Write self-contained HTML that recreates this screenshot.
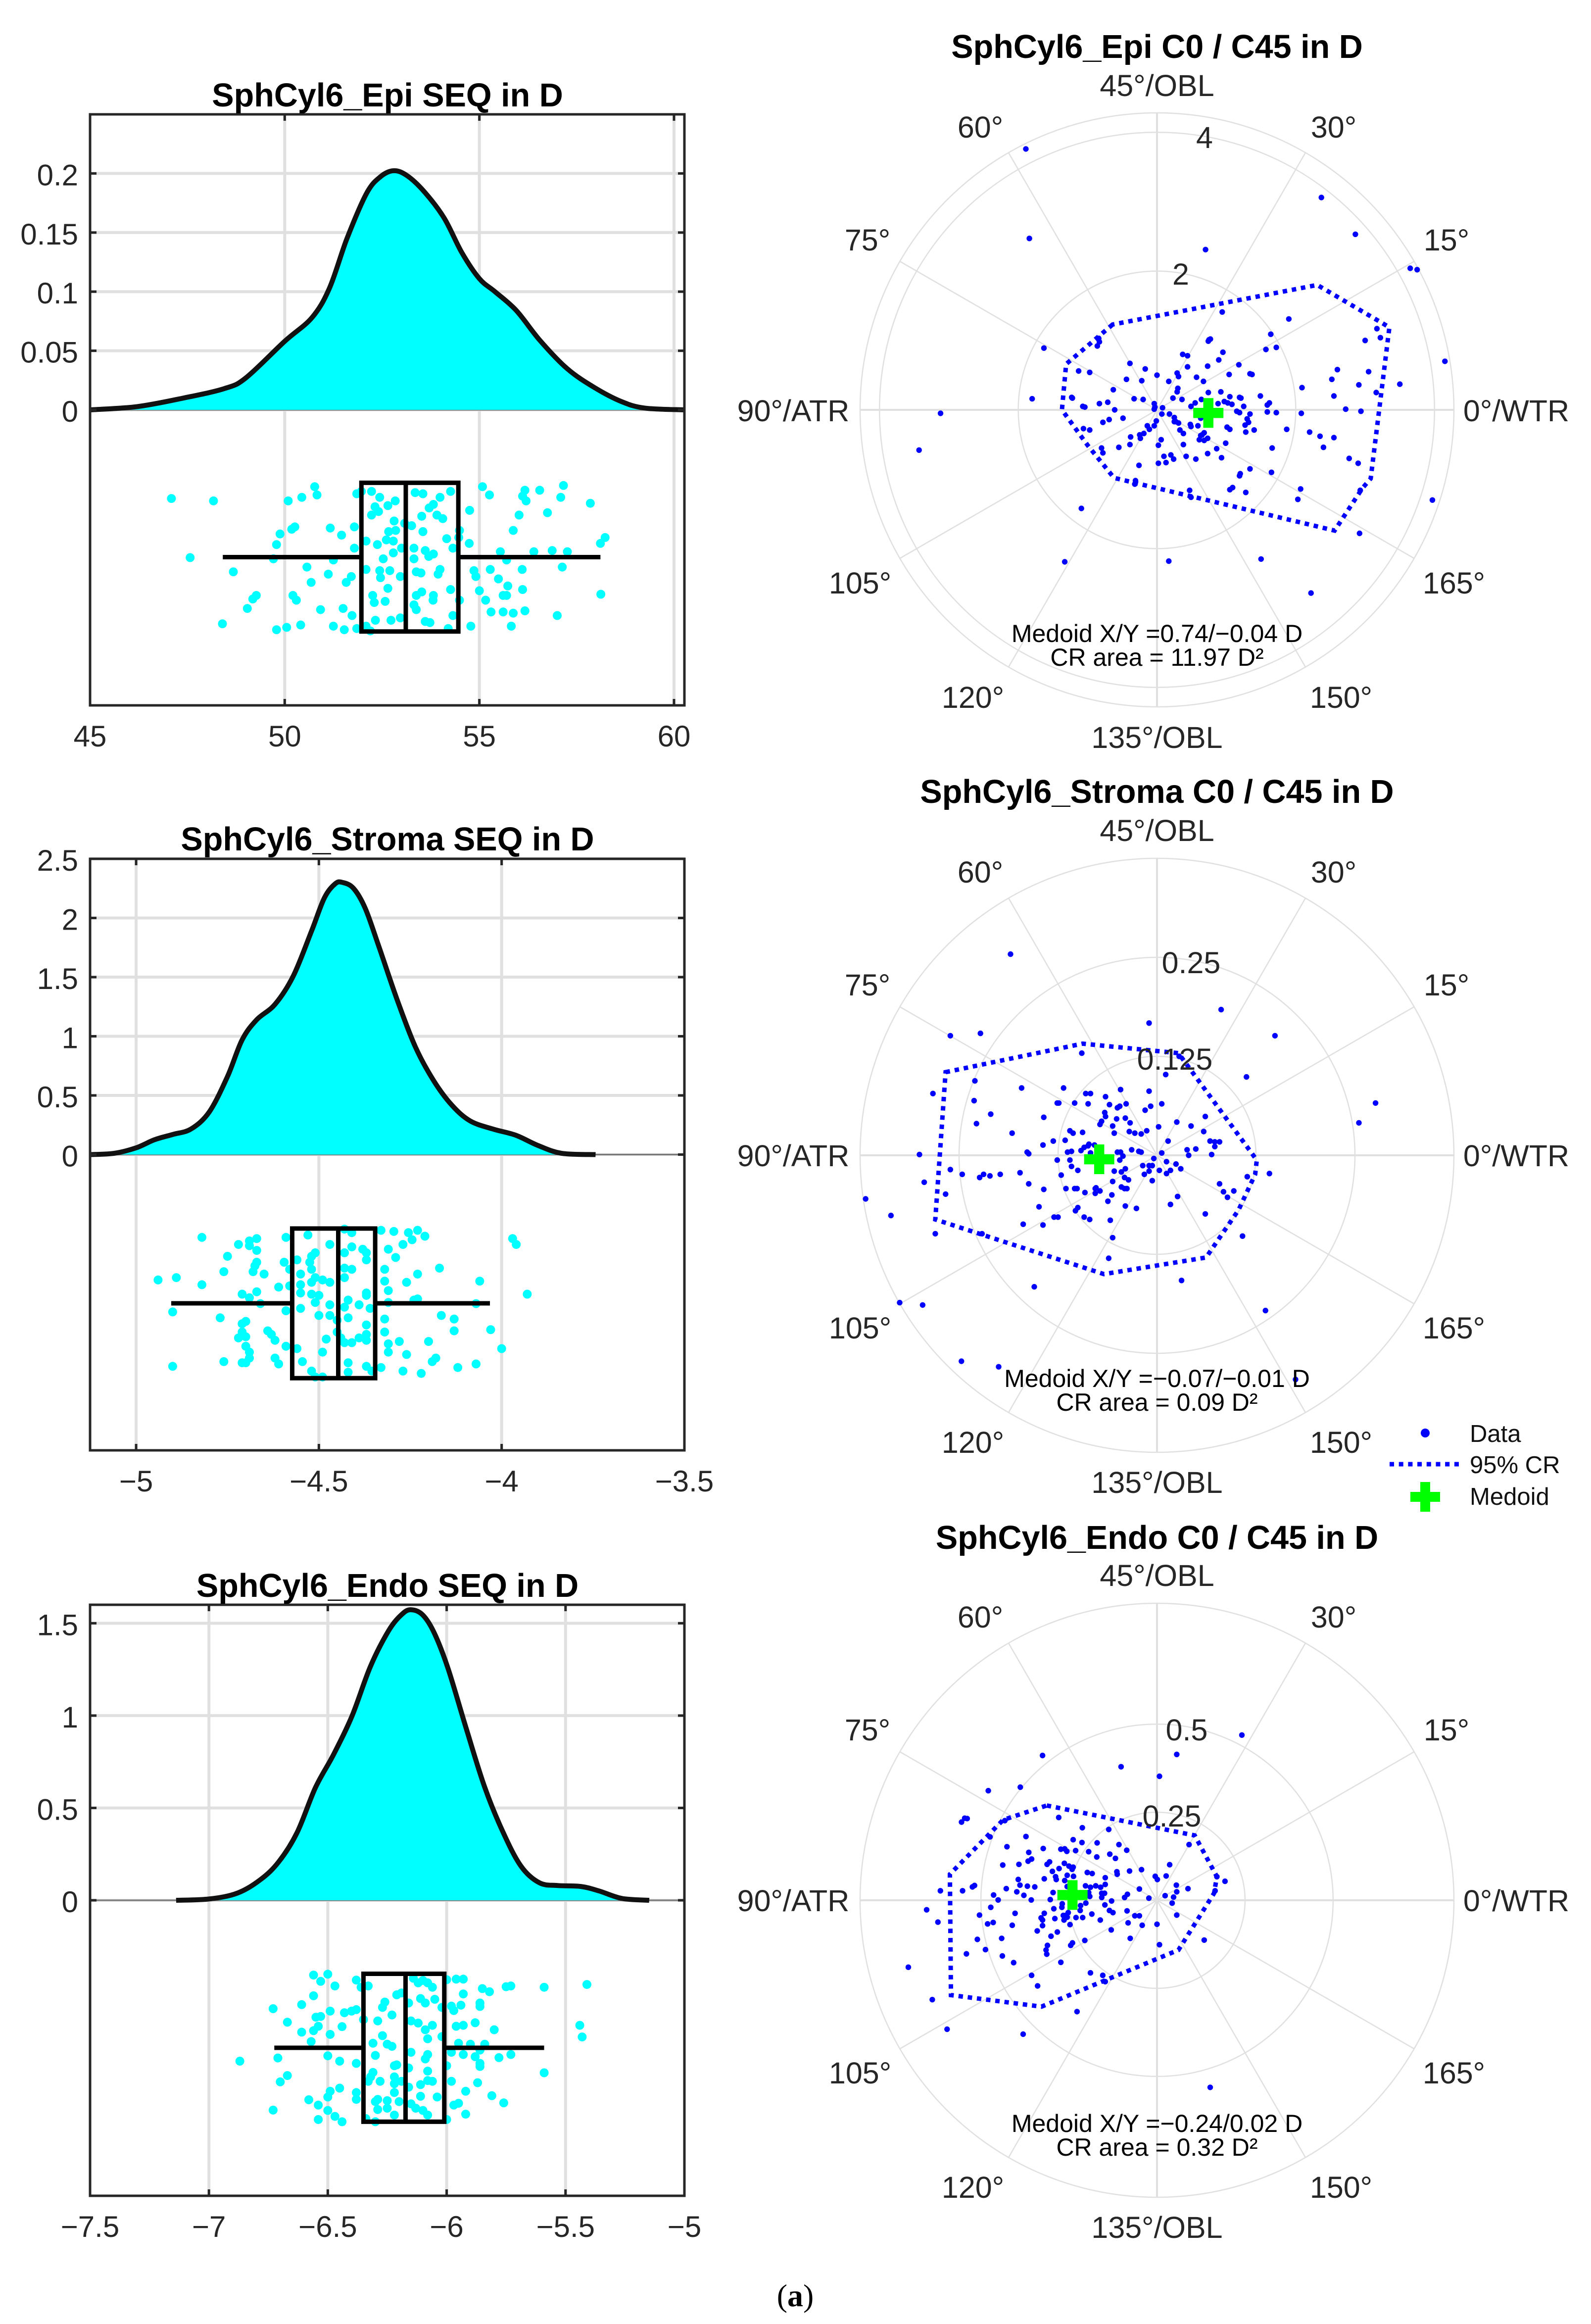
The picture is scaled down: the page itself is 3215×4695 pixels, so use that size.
<!DOCTYPE html>
<html lang="en">
<head>
<meta charset="utf-8">
<title>SphCyl6 SEQ and C0 / C45 distributions</title>
<style>
html,body{margin:0;padding:0;background:#fff;}
svg{display:block;}
text{font-family:"Liberation Sans",Arial,sans-serif;}
.ttl{font-size:66.5px;font-weight:bold;fill:#000;text-anchor:middle;}
.ang{font-size:61px;fill:#262626;text-anchor:middle;dominant-baseline:central;}
.note{font-size:50px;fill:#000;text-anchor:middle;dominant-baseline:central;}
.leg{font-size:49px;fill:#111;dominant-baseline:central;}
</style>
</head>
<body>
<svg id="fig" xmlns="http://www.w3.org/2000/svg" width="3215" height="4695" viewBox="0 0 3215 4695">
<rect x="0" y="0" width="3215" height="4695" fill="#fff"/>

<g id="seq-epi"></g>
<g id="seq-stroma"></g>
<g id="seq-endo"></g>
<text class="ttl" x="783" y="215">SphCyl6_Epi SEQ in D</text>
<text class="ttl" x="783" y="1718">SphCyl6_Stroma SEQ in D</text>
<text class="ttl" x="783" y="3226">SphCyl6_Endo SEQ in D</text>

<g id="pol-epi" transform="translate(2338,828)"></g>
<g id="pol-stroma" transform="translate(2338,2334)"></g>
<g id="pol-endo" transform="translate(2338,3839)"></g>

<text class="ttl" x="2338" y="117">SphCyl6_Epi C0 / C45 in D</text>
<text class="ttl" x="2338" y="1622">SphCyl6_Stroma C0 / C45 in D</text>
<text class="ttl" x="2338" y="3129">SphCyl6_Endo C0 / C45 in D</text>

<g transform="translate(2338,830)">
<text class="ang" x="0" y="-657">45°/OBL</text>
<text class="ang" x="-357" y="-573">60°</text>
<text class="ang" x="357" y="-573">30°</text>
<text class="ang" x="-585" y="-345">75°</text>
<text class="ang" x="585" y="-345">15°</text>
<text class="ang" x="-735" y="0">90°/ATR</text>
<text class="ang" x="726" y="0">0°/WTR</text>
<text class="ang" x="-600" y="348">105°</text>
<text class="ang" x="600" y="348">165°</text>
<text class="ang" x="-372" y="579">120°</text>
<text class="ang" x="372" y="579">150°</text>
<text class="ang" x="0" y="660">135°/OBL</text>
<text class="ang" x="96" y="-552">4</text>
<text class="ang" x="48" y="-276">2</text>
<text class="note" x="0" y="450">Medoid X/Y =0.74/−0.04 D</text>
<text class="note" x="0" y="498">CR area = 11.97 D²</text>
</g>

<g transform="translate(2338,2335)">
<text class="ang" x="0" y="-657">45°/OBL</text>
<text class="ang" x="-357" y="-573">60°</text>
<text class="ang" x="357" y="-573">30°</text>
<text class="ang" x="-585" y="-345">75°</text>
<text class="ang" x="585" y="-345">15°</text>
<text class="ang" x="-735" y="0">90°/ATR</text>
<text class="ang" x="726" y="0">0°/WTR</text>
<text class="ang" x="-600" y="348">105°</text>
<text class="ang" x="600" y="348">165°</text>
<text class="ang" x="-372" y="579">120°</text>
<text class="ang" x="372" y="579">150°</text>
<text class="ang" x="0" y="660">135°/OBL</text>
<text class="ang" x="69" y="-390">0.25</text>
<text class="ang" x="36" y="-195">0.125</text>
<text class="note" x="0" y="450">Medoid X/Y =−0.07/−0.01 D</text>
<text class="note" x="0" y="498">CR area = 0.09 D²</text>
</g>

<g transform="translate(2338,3840)">
<text class="ang" x="0" y="-657">45°/OBL</text>
<text class="ang" x="-357" y="-573">60°</text>
<text class="ang" x="357" y="-573">30°</text>
<text class="ang" x="-585" y="-345">75°</text>
<text class="ang" x="585" y="-345">15°</text>
<text class="ang" x="-735" y="0">90°/ATR</text>
<text class="ang" x="726" y="0">0°/WTR</text>
<text class="ang" x="-600" y="348">105°</text>
<text class="ang" x="600" y="348">165°</text>
<text class="ang" x="-372" y="579">120°</text>
<text class="ang" x="372" y="579">150°</text>
<text class="ang" x="0" y="660">135°/OBL</text>
<text class="ang" x="60" y="-345">0.5</text>
<text class="ang" x="30" y="-171">0.25</text>
<text class="note" x="0" y="450">Medoid X/Y =−0.24/0.02 D</text>
<text class="note" x="0" y="498">CR area = 0.32 D²</text>
</g>

<g transform="translate(-6,-6)">
<circle cx="2886" cy="2901" r="9" fill="#0000ff"/>
<text class="leg" x="2976" y="2903">Data</text>
<line x1="2814" y1="2964" x2="2958" y2="2964" stroke="#0000ff" stroke-width="9" stroke-dasharray="9 9.7"/>
<text class="leg" x="2976" y="2966">95% CR</text>
<path d="M2876 3000h20v20h20v20h-20v20h-20v-20h-20v-20h20z" fill="#00ff00"/>
<text class="leg" x="2976" y="3030">Medoid</text>
</g>

<text x="1607" y="4659" text-anchor="middle" style="font-family:'Liberation Serif',serif;font-size:64px;fill:#000">(<tspan font-weight="bold">a</tspan>)</text>
</svg>

<script>
// ---------- SEQ panels: density curves ----------
const epiKdeX = [45,46.2,47.4,48.45,49,50,50.7,51.15,51.6,52.1,52.45,52.8,53.15,53.6,54.1,54.55,55,55.4,55.95,56.55,57.25,57.95,58.65,59.25,60.267];
const epiKdeY = [0,.0027,.01,.018,.027,.058,.078,.103,.145,.183,.197,.2023,.198,.184,.162,.133,.111,.1,.084,.059,.035,.019,.007,.0015,0];
const stromaKdeX = [-5.126,-5.06,-5,-4.95,-4.9,-4.85,-4.8,-4.75,-4.71,-4.67,-4.62,-4.57,-4.52,-4.485,-4.455,-4.435,-4.405,-4.373,-4.336,-4.286,-4.236,-4.186,-4.136,-4.086,-4.024,-3.961,-3.9,-3.836,-3.743];
const stromaKdeY = [0,.011,.057,.125,.17,.216,.36,.66,.97,1.14,1.27,1.51,1.89,2.17,2.29,2.3,2.25,2.08,1.76,1.31,.91,.625,.417,.284,.216,.163,.076,.011,0];
const endoKdeX = [-7.138,-7,-6.88,-6.783,-6.706,-6.629,-6.552,-6.475,-6.398,-6.321,-6.244,-6.187,-6.148,-6.1,-6.052,-5.994,-5.917,-5.84,-5.763,-5.687,-5.61,-5.533,-5.437,-5.36,-5.263,-5.148];
const endoKdeY = [0,.007,.039,.112,.209,.367,.61,.791,.998,1.265,1.46,1.55,1.573,1.544,1.447,1.254,.927,.612,.369,.184,.095,.08,.075,.051,.01,0];

// ---------- SEQ panels: tick values ----------
const epiXTicks = [45,50,55,60];
const epiYTicks = [0,.05,.1,.15,.2];
const stromaXTicks = [-5,-4.5,-4,-3.5];
const stromaYTicks = [0,.5,1,1.5,2,2.5];
const endoXTicks = [-7.5,-7,-6.5,-6,-5.5,-5];
const endoYTicks = [0,.5,1,1.5];

// ---------- SEQ panels: box plots [low whisker, q1, median, q3, high whisker] and box extent on y ----------
const epiBox = [48.41,51.97,53.11,54.46,58.11];
const epiBoxY = [-.0617,-.1875];
const stromaBox = [-4.904,-4.573,-4.447,-4.346,-4.032];
const stromaBoxY = [-.625,-1.89];
const endoBox = [-6.725,-6.35,-6.173,-6.01,-5.59];
const endoBoxY = [-.398,-1.199];

// ---------- SEQ panels: jittered samples [value, jitter] ----------
const epiSamples = [[47.09,-.075],[48.17,-.077],[47.57,-.125],[48.68,-.137],[48.4,-.181],[49.04,-.168],[49.18,-.16],[49.27,-.157],[49.79,-.186],[50.05,-.184],[50.41,-.182],[49.71,-.126],[49.79,-.114],[49.88,-.105],[50.18,-.101],[50.26,-.099],[50.09,-.077],[50.44,-.074],[50.77,-.065],[50.83,-.072],[51.17,-.1],[51.46,-.106],[51.79,-.099],[50.57,-.133],[50.68,-.146],[51.12,-.139],[51.25,-.127],[50.21,-.157],[50.3,-.161],[50.92,-.169],[51.25,-.183],[51.5,-.168],[51.53,-.186],[51.73,-.174],[51.58,-.146],[51.71,-.141],[51.79,-.117],[51.85,-.071],[51.97,-.069],[52.23,-.069],[52.44,-.074],[52.32,-.082],[52.65,-.081],[52.84,-.077],[52.41,-.086],[52.23,-.089],[52.81,-.094],[53.08,-.096],[52.67,-.103],[52.85,-.102],[53.26,-.098],[53.55,-.103],[52.61,-.11],[52.79,-.111],[52.38,-.114],[52.09,-.111],[53,-.117],[53.32,-.117],[53.61,-.119],[53.82,-.122],[53.7,-.124],[52.79,-.121],[52.53,-.126],[53.32,-.126],[52.09,-.135],[52.44,-.136],[52.7,-.136],[52.46,-.142],[52.97,-.141],[53.38,-.137],[53.5,-.138],[53.99,-.135],[53.94,-.139],[52.65,-.151],[52.26,-.157],[52.3,-.163],[52.58,-.162],[53.38,-.157],[53.52,-.154],[53.82,-.157],[53.81,-.161],[54.26,-.152],[53.32,-.165],[53.38,-.169],[52.73,-.178],[52.97,-.176],[52.33,-.178],[53.61,-.179],[53.73,-.18],[53.35,-.07],[53.55,-.071],[53.71,-.083],[53.82,-.08],[53.99,-.074],[54.26,-.069],[53.91,-.089],[54.06,-.092],[53.52,-.09],[54.16,-.109],[54.49,-.102],[54.32,-.117],[54.47,-.108],[54.74,-.113],[54.75,-.085],[55.08,-.065],[55.26,-.072],[55.54,-.12],[55.7,-.127],[55.28,-.135],[54.86,-.136],[54.91,-.141],[55.49,-.143],[55.73,-.149],[55,-.153],[55.16,-.161],[55.3,-.171],[55.61,-.157],[55.7,-.157],[55.61,-.171],[55.87,-.172],[56.17,-.17],[55.82,-.183],[54.78,-.183],[54.49,-.161],[54.32,-.174],[55.87,-.102],[56.02,-.089],[56.17,-.068],[56.11,-.073],[56.2,-.077],[56.55,-.068],[56.75,-.087],[57.09,-.074],[57.16,-.064],[57.85,-.079],[58.11,-.113],[58.23,-.108],[57.26,-.12],[56.87,-.119],[56.4,-.12],[56.1,-.135],[56.11,-.152],[57.13,-.133],[57,-.174],[58.12,-.156],[54.2,-.185],[52.09,-.183],[51.85,-.185],[52.2,-.187]];
const stromaSamples = [[-4.94,-1.06],[-4.89,-1.04],[-4.82,-.7],[-4.82,-1.1],[-4.9,-1.33],[-4.9,-1.79],[-4.77,-1.38],[-4.76,-.99],[-4.76,-1.75],[-4.75,-.86],[-4.72,-.76],[-4.69,-.77],[-4.69,-.73],[-4.67,-.71],[-4.67,-.81],[-4.67,-.91],[-4.675,-.94],[-4.68,-.99],[-4.65,-1.01],[-4.61,-1.12],[-4.67,-1.16],[-4.71,-1.18],[-4.69,-1.21],[-4.66,-1.26],[-4.7,-1.41],[-4.71,-1.43],[-4.71,-1.5],[-4.72,-1.55],[-4.7,-1.54],[-4.7,-1.62],[-4.69,-1.67],[-4.69,-1.72],[-4.71,-1.76],[-4.7,-1.76],[-4.64,-1.49],[-4.63,-1.52],[-4.62,-1.57],[-4.62,-1.72],[-4.61,-1.77],[-4.59,-1.62],[-4.56,-1.64],[-4.545,-1.75],[-4.52,-1.83],[-4.51,-1.88],[-4.49,-1.88],[-4.49,-1.67],[-4.48,-1.56],[-4.45,-1.5],[-4.44,-1.55],[-4.41,-1.59],[-4.42,-1.76],[-4.42,-1.84],[-4.37,-1.79],[-4.355,-1.83],[-4.33,-1.8],[-4.31,-1.67],[-4.31,-1.6],[-4.28,-1.58],[-4.26,-1.69],[-4.27,-1.83],[-4.22,-1.85],[-4.2,-1.58],[-4.18,-1.72],[-4.19,-1.75],[-4.12,-1.8],[-4.07,-1.77],[-4,-1.64],[-4.03,-1.48],[-4.13,-1.49],[-4.13,-1.39],[-4.165,-1.36],[-4.07,-1.26],[-4.24,-1.23],[-4.23,-1.22],[-4.06,-1.07],[-4.17,-.96],[-4.23,-1.01],[-4.26,-1.08],[-4.29,-.87],[-4.27,-.76],[-4.245,-.72],[-4.255,-.66],[-4.23,-.64],[-4.21,-.69],[-4.295,-.65],[-4.33,-.64],[-4.31,-.8],[-3.97,-.71],[-3.96,-.76],[-3.93,-1.18],[-4.32,-1.07],[-4.31,-1.15],[-4.31,-1.25],[-4.32,-.97],[-4.32,-1.39],[-4.32,-1.5],[-4.59,-.7],[-4.53,-.68],[-4.47,-.76],[-4.43,-.63],[-4.41,-.66],[-4.38,-.8],[-4.37,-.83],[-4.37,-.89],[-4.41,-.78],[-4.43,-.83],[-4.51,-.83],[-4.52,-.86],[-4.525,-.91],[-4.595,-.91],[-4.56,-.89],[-4.58,-.97],[-4.52,-.97],[-4.55,-1.01],[-4.43,-.96],[-4.41,-.97],[-4.43,-1.04],[-4.51,-1.04],[-4.49,-1.06],[-4.47,-1.08],[-4.58,-1.11],[-4.55,-1.1],[-4.52,-1.08],[-4.55,-1.17],[-4.52,-1.18],[-4.5,-1.19],[-4.51,-1.25],[-4.37,-1.17],[-4.37,-1.19],[-4.42,-1.23],[-4.43,-1.29],[-4.39,-1.27],[-4.47,-1.27],[-4.36,-1.3],[-4.59,-1.32],[-4.55,-1.3],[-4.5,-1.36],[-4.47,-1.36],[-4.42,-1.38],[-4.37,-1.44],[-4.37,-1.52],[-4.37,-1.57],[-4.39,-1.55],[-4.45,-1.4],[-4.43,-1.59]];
const endoSamples = [[-6.87,-.871],[-6.73,-.587],[-6.67,-.66],[-6.71,-.854],[-6.7,-.983],[-6.67,-.949],[-6.73,-1.136],[-6.61,-.565],[-6.61,-.714],[-6.57,-.765],[-6.56,-.517],[-6.56,-.405],[-6.53,-.439],[-6.5,-.4],[-6.47,-.464],[-6.38,-.432],[-6.36,-.471],[-6.33,-.464],[-6.43,-.609],[-6.4,-.6],[-6.38,-.592],[-6.49,-.6],[-6.53,-.629],[-6.55,-.633],[-6.54,-.682],[-6.56,-.706],[-6.44,-.684],[-6.49,-.726],[-6.35,-.646],[-6.29,-.653],[-6.26,-.551],[-6.27,-.58],[-6.23,-.621],[-6.21,-.512],[-6.19,-.502],[-6.16,-.556],[-6.11,-.532],[-6.09,-.556],[-6.12,-.447],[-6.14,-.422],[-6.1,-.434],[-6.08,-.447],[-6.06,-.471],[-6.05,-.536],[-6.02,-.58],[-5.98,-.573],[-5.97,-.597],[-5.94,-.568],[-5.86,-.556],[-5.86,-.575],[-5.93,-.507],[-5.85,-.478],[-5.82,-.495],[-5.75,-.468],[-5.73,-.464],[-5.59,-.471],[-5.41,-.456],[-5.96,-.427],[-5.93,-.427],[-6,-.43],[-5.44,-.677],[-5.43,-.74],[-5.59,-.934],[-5.73,-.835],[-5.78,-.852],[-5.8,-.701],[-5.88,-.663],[-5.93,-.677],[-5.96,-.682],[-5.95,-.774],[-5.9,-.779],[-5.84,-.779],[-5.86,-.811],[-5.93,-.835],[-5.88,-.847],[-5.86,-.883],[-5.86,-.9],[-5.87,-.988],[-5.92,-1.034],[-5.81,-1.058],[-5.76,-1.097],[-5.95,-1.099],[-5.97,-1.109],[-5.92,-1.158],[-6,-1.187],[-5.98,-.98],[-6,-.896],[-5.98,-.823],[-6.02,-.738],[-6.06,-.677],[-6.09,-.701],[-6.12,-.665],[-6.15,-.653],[-6.08,-.75],[-6.15,-.823],[-6.08,-.835],[-6.09,-.859],[-6.16,-.908],[-6.08,-.925],[-6.22,-.896],[-6.21,-.891],[-6.31,-.932],[-6.32,-.956],[-6.33,-.98],[-6.28,-.98],[-6.22,-.956],[-6.22,-.993],[-6.22,-1.041],[-6.3,-.84],[-6.31,-.774],[-6.25,-.779],[-6.23,-.791],[-6.27,-.733],[-6.38,-.883],[-6.45,-.871],[-6.5,-.842],[-6.45,-1.017],[-6.49,-1.034],[-6.5,-1.065],[-6.58,-1.08],[-6.54,-1.109],[-6.5,-1.138],[-6.47,-1.17],[-6.54,-1.187],[-6.44,-1.199],[-6.38,-1.041],[-6.38,-1.078],[-6.34,-1.182],[-6.3,-1.199],[-6.29,-1.078],[-6.3,-1.09],[-6.25,-1.085],[-6.25,-1.126],[-6.29,-1.133],[-6.22,-1.163],[-6.2,-1.09],[-6.15,-1.102],[-6.13,-1.126],[-6.11,-1.061],[-6.1,-1.138],[-6.04,-1.065],[-6.08,-1.163],[-6.06,-.98],[-6.08,-.976],[-6.11,-.998],[-6.16,-1.012],[-6.19,-.98]];

// ---------- Polar panels: ring values ----------
const epiRings = [2,4,4.28];
const stromaRings = [.125,.25,.375];
const endoRings = [.25,.5,.843];

// ---------- Polar panels: medoids [C0, C45] ----------
const epiMedoid = [.74,-.045];
const stromaMedoid = [-.073,-.005];
const endoMedoid = [-.24,.015];

// ---------- Polar panels: 95% confidence region hulls [C0, C45] ----------
const epiHull = [[-.64,1.23],[-1.31,.66],[-1.37,0],[-1,-.51],[-.62,-.98],[2.56,-1.74],[2.96,-1.13],[3.08,-.99],[3.35,1.19],[2.31,1.8]];
const stromaHull = [[-.267,.105],[-.094,.141],[.027,.129],[.126,-.006],[.124,-.024],[.103,-.069],[.062,-.129],[-.067,-.15],[-.28,-.081]];
const endoHull = [[-.313,.269],[.107,.184],[.17,.067],[.162,.02],[.061,-.141],[-.328,-.302],[-.585,-.269],[-.588,.074],[-.437,.228]];

// ---------- Polar panels: samples [C0, C45] ----------
const epiPoints = [[-1.89,3.76],[-1.84,2.47],[.7,2.31],[2.37,3.06],[2.86,2.53],[3.65,2.04],[3.75,2.02],[4.15,.7],[3.5,.37],[3.97,-1.3],[2.92,-1.78],[2.22,-2.64],[1.5,-2.15],[.17,-2.18],[-1.33,-2.19],[-3.43,-.58],[-3.12,-.05],[-1.8,.16],[-1.63,.89],[.94,1.41],[1.9,1.31],[3.17,1.17],[3.22,1.04],[3,1],[2.35,-.38],[2.55,-.4],[2.4,-.54],[2.55,.2],[2.52,.44],[2.6,.58],[2.72,.01],[2.94,-.02],[2.91,.36],[3.05,.55],[3.16,.25],[2.77,-.7],[2.9,-.77],[2.93,-1.16],[-1.23,.18],[1.64,1.09],[1.57,.87],[1.72,.9],[1.18,.65],[1.04,.51],[1.34,.52],[1.37,.51],[2.09,.32],[1.49,.2],[.75,1.01],[.77,1.02],[.74,.99],[.95,.83],[.89,.72],[.73,.63],[.37,.8],[.44,.78],[.44,.62],[.29,.53],[.31,.48],[.57,.47],[.67,.41],[.17,.41],[0,.5],[-.17,.59],[-.39,.67],[-.22,.42],[-.44,.44],[-.63,.29],[-1.13,.56],[-.97,.54],[-1.22,.17],[-1.07,.05],[-1.04,.04],[-.83,.09],[-.71,.11],[-.61,0],[-.33,.16],[-.2,.15],[-.49,-.12],[-.69,-.14],[-.78,-.18],[-1.06,-.27],[-.97,-.29],[-.8,-.55],[-.78,-.62],[-.55,-.54],[-.39,-.5],[-.38,-.39],[-.25,-.36],[-.19,-.34],[-.24,-.41],[-.14,-.23],[-.11,-.28],[-.04,-.23],[-.01,-.16],[.07,-.06],[.18,-.06],[-.04,.09],[-.03,.04],[-.04,.01],[.08,.03],[.23,.17],[.36,.15],[.3,.31],[.29,.26],[.49,.05],[.55,.1],[.64,.15],[.74,.25],[.92,.26],[1.05,.19],[1.19,.18],[1.21,.17],[.88,.09],[.97,.12],[1.02,.1],[1.08,.08],[1.25,.05],[1.15,-.02],[1.19,-.04],[1.34,-.06],[1.3,-.13],[1.32,-.18],[1.27,-.22],[1.4,-.29],[1.28,-.32],[1.59,.07],[1.62,.1],[1.59,-.03],[1.72,-.04],[2.08,-.05],[1.87,-.28],[1.66,-.55],[1.65,-.9],[1.34,-.85],[1.2,-.92],[1.19,-.95],[1.09,-1.12],[1.05,-1.15],[1.28,-1.19],[2.07,-1.14],[2.03,-1.29],[2.2,-.32],[1.01,-.25],[1.05,-.28],[.99,-.48],[.86,-.56],[.93,-.69],[.73,-.63],[.56,-.71],[.42,-.67],[.2,-.65],[.24,-.71],[.1,-.67],[.13,-.76],[.02,-.77],[-.26,-.8],[.38,-.5],[.06,-.43],[.02,-.51],[.33,-.29],[.38,-.34],[.25,-.11],[.27,-.17],[.31,-.19],[.25,-.17],[.48,-.21],[.49,-.24],[.59,-.23],[.68,-.33],[.63,-.37],[.73,-.41],[.68,-.44],[.61,-.43],[.65,-.36],[.63,-.12],[.47,-1.16],[.49,-1.26],[-.31,-1.02],[-.32,-1.07],[-1.09,-1.42],[-.84,1.03],[-.83,.98],[-.86,.92]];
const stromaPoints = [[-.185,.254],[-.261,.151],[.149,.151],[.276,.066],[.255,.041],[-.283,.078],[-.3,.001],[-.261,-.018],[-.246,-.024],[-.294,-.034],[-.267,-.049],[-.368,-.055],[-.336,-.076],[-.28,-.099],[-.325,-.186],[-.296,-.189],[-.247,-.26],[-.2,-.267],[.137,-.196],[.175,-.283],[-.221,-.099],[.142,-.023],[.081,.184],[-.01,.167],[-.223,.154],[.113,.099],[-.095,.129],[.011,.102],[.028,.125],[-.23,.094],[-.171,.085],[-.118,.085],[-.09,.078],[-.084,.078],[-.046,.083],[-.01,.081],[-.065,.074],[-.231,.069],[-.126,.066],[-.124,.066],[-.104,.066],[-.087,.065],[-.06,.064],[-.05,.06],[-.047,.062],[-.039,.065],[-.008,.062],[-.015,.057],[.006,.065],[.061,.049],[-.21,.052],[-.228,.04],[-.143,.048],[-.066,.054],[-.065,.049],[-.07,.043],[-.072,.039],[-.051,.046],[-.04,.047],[-.034,.041],[-.056,.037],[.025,.042],[.043,.037],[.002,.036],[.059,.03],[-.013,.031],[-.02,.027],[-.028,.028],[-.035,.03],[-.054,.028],[-.11,.031],[-.106,.028],[-.094,.029],[-.183,.028],[-.131,.018],[-.116,.019],[-.144,.013],[.014,.018],[.067,.018],[.073,.017],[.079,.017],[.073,.011],[-.164,.004],[-.162,.002],[-.113,.004],[-.108,.005],[-.096,.006],[-.092,.01],[-.086,.014],[-.087,.012],[-.079,.013],[-.084,.003],[-.05,.004],[-.046,.004],[-.043,-.001],[-.047,-.006],[-.032,.007],[-.023,.005],[-.02,.004],[.006,.003],[-.004,-.004],[.038,.007],[.04,0],[.049,.008],[.069,.001],[-.126,-.006],[-.11,-.006],[-.108,-.014],[-.1,-.019],[-.121,-.025],[-.173,-.022],[-.198,-.024],[-.211,-.026],[-.224,-.028],[-.219,-.024],[-.162,-.036],[-.143,-.043],[-.115,-.042],[-.104,-.042],[-.101,-.042],[-.091,-.047],[-.078,-.042],[-.077,-.041],[-.078,-.048],[-.072,-.045],[-.054,-.02],[-.04,-.017],[-.045,-.021],[-.041,-.028],[-.036,-.031],[-.056,-.033],[-.045,-.04],[-.041,-.042],[-.038,-.042],[-.057,-.05],[-.062,-.058],[-.04,-.064],[-.026,-.067],[-.018,-.013],[-.01,-.013],[-.006,-.013],[-.01,-.02],[-.016,-.024],[-.006,-.032],[.003,-.019],[.012,-.023],[.017,-.019],[.012,-.008],[.024,-.011],[.03,-.017],[.079,-.036],[.084,-.046],[.089,-.053],[.097,-.045],[.114,-.027],[.026,-.052],[.017,-.062],[.061,-.074],[.108,-.102],[.031,-.158],[-.155,-.166],[-.061,-.13],[-.056,-.104],[-.059,-.082],[-.085,-.081],[-.092,-.078],[-.103,-.07],[-.1,-.066],[-.13,-.078],[-.125,-.078],[-.149,-.065],[-.169,-.087],[-.144,-.088]];
const endoPoints = [[.241,.469],[.056,.414],[-.325,.411],[-.546,.233],[-.555,.222],[.151,-.531],[-.227,-.316],[-.38,-.38],[-.596,-.366],[-.638,-.282],[-.706,-.19],[-.654,-.027],[-.622,-.062],[-.615,.027],[-.552,.027],[.17,.067],[.193,.054],[.165,.027],[-.102,.379],[.007,.352],[-.388,.321],[-.479,.311],[-.539,.232],[-.279,.235],[-.212,.206],[-.137,.201],[-.372,.181],[-.426,.152],[-.323,.147],[-.273,.145],[-.262,.146],[-.256,.139],[-.231,.141],[-.194,.138],[-.238,.172],[-.213,.164],[-.17,.163],[-.108,.158],[-.086,.142],[-.134,.131],[-.118,.119],[-.171,.123],[-.364,.136],[-.366,.111],[-.356,.117],[-.438,.1],[-.392,.102],[-.312,.102],[-.305,.109],[-.263,.105],[-.25,.097],[-.238,.094],[-.241,.088],[-.278,.09],[-.297,.082],[-.255,.071],[-.237,.068],[-.288,.067],[-.286,.059],[-.32,.061],[-.262,.056],[-.198,.079],[-.184,.076],[-.147,.064],[-.114,.081],[-.113,.074],[-.078,.083],[-.044,.087],[-.005,.068],[.001,.059],[.026,.069],[.036,.101],[.091,.158],[-.394,.059],[-.389,.043],[-.368,.04],[-.347,.038],[-.428,.033],[-.524,.038],[-.518,.042],[-.398,.024],[-.378,.014],[-.357,.001],[-.464,.015],[-.451,.001],[-.472,-.02],[-.295,.022],[-.303,.002],[-.203,.041],[-.189,.037],[-.174,.041],[-.16,.037],[-.147,.045],[-.255,.039],[-.157,.02],[-.149,.02],[-.157,.008],[-.191,.011],[-.194,.022],[-.129,-.002],[-.148,-.013],[-.135,-.029],[-.125,-.035],[-.085,-.03],[-.092,.008],[-.084,.017],[-.05,.032],[-.023,.006],[.023,.013],[.047,.009],[.056,.024],[.055,.043],[.088,.033],[.043,-.008],[.056,-.042],[0,-.068],[-.042,-.071],[-.063,-.044],[-.05,-.044],[-.082,-.064],[-.076,-.108],[.007,-.126],[.134,-.113],[-.13,-.084],[-.161,-.056],[-.185,-.039],[-.211,-.049],[-.23,-.049],[-.202,-.008],[-.217,-.015],[-.218,-.029],[-.269,-.01],[-.27,-.02],[-.293,-.024],[-.32,-.037],[-.329,-.05],[-.325,-.056],[-.325,-.072],[-.34,-.087],[-.29,-.052],[-.252,-.035],[-.266,-.043],[-.255,-.048],[-.264,-.056],[-.259,-.043],[-.247,-.069],[-.283,-.09],[-.301,-.102],[-.311,-.128],[-.315,-.141],[-.313,-.153],[-.245,-.128],[-.24,-.121],[-.205,-.114],[-.273,-.176],[-.356,-.213],[-.339,-.243],[-.189,-.206],[-.154,-.213],[-.147,-.231],[-.407,-.177],[-.439,-.158],[-.487,-.14],[-.441,-.108],[-.51,-.111],[-.541,-.152],[-.481,-.067],[-.465,-.063],[-.411,-.071],[-.403,-.037],[-.504,-.042],[-.474,.18],[-.432,.226]];

// ---------- helpers ----------
const NS = 'http://www.w3.org/2000/svg';
function mk(parent, tag, attrs) {
  const el = document.createElementNS(NS, tag);
  for (const k in attrs) el.setAttribute(k, attrs[k]);
  parent.appendChild(el);
  return el;
}
function smoothPath(pts) {
  let d = 'M' + pts[0][0].toFixed(1) + ' ' + pts[0][1].toFixed(1);
  for (let i = 0; i < pts.length - 1; i++) {
    const p0 = pts[Math.max(i - 1, 0)], p1 = pts[i], p2 = pts[i + 1], p3 = pts[Math.min(i + 2, pts.length - 1)];
    const c1x = p1[0] + (p2[0] - p0[0]) / 6, c1y = p1[1] + (p2[1] - p0[1]) / 6;
    const c2x = p2[0] - (p3[0] - p1[0]) / 6, c2y = p2[1] - (p3[1] - p1[1]) / 6;
    d += 'C' + c1x.toFixed(1) + ' ' + c1y.toFixed(1) + ' ' + c2x.toFixed(1) + ' ' + c2y.toFixed(1) + ' ' + p2[0].toFixed(1) + ' ' + p2[1].toFixed(1);
  }
  return d;
}
function fmt(v) { return String(v).replace('-', '\u2212'); }

// ---------- SEQ panel renderer ----------
function drawSeq(cfg) {
  const g = document.getElementById(cfg.id);
  const L = 182, R = 1383, T = cfg.top, B = cfg.bottom;
  const sx = v => L + (v - cfg.xlim[0]) / (cfg.xlim[1] - cfg.xlim[0]) * (R - L);
  const sy = v => T + (cfg.ylim[1] - v) / (cfg.ylim[1] - cfg.ylim[0]) * (B - T);

  cfg.xTicks.forEach(v => {
    if (v > cfg.xlim[0] && v < cfg.xlim[1]) {
      const gl = mk(g, 'line', {x1: sx(v), x2: sx(v), y1: T, y2: B, stroke: '#e0e0e0', 'stroke-width': 6});
      
      
    }
  });
  cfg.yTicks.forEach(v => {
    const gl = mk(g, 'line', {x1: L, x2: R, y1: sy(v), y2: sy(v), stroke: '#e0e0e0', 'stroke-width': 6});
    
    
  });

  const base = mk(g, 'line', {x1: L, x2: R, y1: sy(0), y2: sy(0), stroke: '#777', 'stroke-width': 3});
  
  

  const pts = cfg.kdeX.map((x, i) => [sx(x), sy(cfg.kdeY[i])]);
  const curve = smoothPath(pts);
  const area = mk(g, 'path', {d: curve + 'L' + pts[pts.length - 1][0] + ' ' + sy(0) + 'L' + pts[0][0] + ' ' + sy(0) + 'Z', fill: '#00ffff', stroke: 'none'});
  
  
  const line = mk(g, 'path', {d: curve, fill: 'none', stroke: '#111', 'stroke-width': 10, 'stroke-linejoin': 'round'});
  
  

  cfg.samples.forEach(p => {
    const c = mk(g, 'circle', {cx: sx(p[0]).toFixed(1), cy: sy(p[1]).toFixed(1), r: 9, fill: '#00ffff'});
    
    
  });

  const b = cfg.box, by = cfg.boxY, my = (by[0] + by[1]) / 2;
  const wl = mk(g, 'line', {x1: sx(b[0]), x2: sx(b[1]), y1: sy(my), y2: sy(my), stroke: '#000', 'stroke-width': 9});
  
  
  const wh = mk(g, 'line', {x1: sx(b[3]), x2: sx(b[4]), y1: sy(my), y2: sy(my), stroke: '#000', 'stroke-width': 9});
  
  
  const rect = mk(g, 'rect', {x: sx(b[1]), y: sy(by[0]), width: sx(b[3]) - sx(b[1]), height: sy(by[1]) - sy(by[0]), fill: 'none', stroke: '#000', 'stroke-width': 9});
  
  
  const med = mk(g, 'line', {x1: sx(b[2]), x2: sx(b[2]), y1: sy(by[0]), y2: sy(by[1]), stroke: '#000', 'stroke-width': 9});
  
  

  const frame = mk(g, 'rect', {x: L, y: T, width: R - L, height: B - T, fill: 'none', stroke: '#262626', 'stroke-width': 5});
  
  

  cfg.xTicks.forEach(v => {
    const t1 = mk(g, 'line', {x1: sx(v), x2: sx(v), y1: B, y2: B - 13, stroke: '#262626', 'stroke-width': 5});
    
    
    const t2 = mk(g, 'line', {x1: sx(v), x2: sx(v), y1: T, y2: T + 13, stroke: '#262626', 'stroke-width': 5});
    
    
    const lab = mk(g, 'text', {x: sx(v), y: B + 83, 'text-anchor': 'middle', 'font-size': 60, fill: '#262626'});
    lab.textContent = fmt(v);
    
    
  });
  cfg.yTicks.forEach(v => {
    const t1 = mk(g, 'line', {x1: L, x2: L + 13, y1: sy(v), y2: sy(v), stroke: '#262626', 'stroke-width': 5});
    
    
    const t2 = mk(g, 'line', {x1: R, x2: R - 13, y1: sy(v), y2: sy(v), stroke: '#262626', 'stroke-width': 5});
    
    
    const lab = mk(g, 'text', {x: 158, y: sy(v) + 24, 'text-anchor': 'end', 'font-size': 60, fill: '#262626'});
    lab.textContent = fmt(v);
    
    
  });
}

// ---------- Polar panel renderer ----------
function drawPolar(cfg) {
  const g = document.getElementById(cfg.id);
  const RAD = 600, lim = cfg.rings[cfg.rings.length - 1];
  const px = v => v / lim * RAD;
  const py = v => -v / lim * RAD;

  cfg.rings.forEach(r => {
    const ring = mk(g, 'circle', {cx: 0, cy: 0, r: px(r), fill: 'none', stroke: '#e0e0e0', 'stroke-width': 2.5});
    
    
  });
  for (let a = 0; a < 360; a += 30) {
    const t = a * Math.PI / 180;
    const sp = mk(g, 'line', {x1: 0, y1: 0, x2: (RAD * Math.cos(t)).toFixed(1), y2: (-RAD * Math.sin(t)).toFixed(1), stroke: '#e0e0e0', 'stroke-width': a % 90 === 0 ? 4 : 2.5});
    
    
  }
  cfg.points.forEach(p => {
    const c = mk(g, 'circle', {cx: px(p[0]).toFixed(1), cy: py(p[1]).toFixed(1), r: 5.7, fill: '#0000ff'});
    
    
  });
  const hull = mk(g, 'polygon', {points: cfg.hull.map(p => px(p[0]).toFixed(1) + ',' + py(p[1]).toFixed(1)).join(' '), fill: 'none', stroke: '#0000ff', 'stroke-width': 9, 'stroke-dasharray': '9 9.7'});
  
  
  const mx = px(cfg.medoid[0]), my = py(cfg.medoid[1]);
  const cross = mk(g, 'path', {d: 'M' + (mx - 30.5) + ' ' + my + 'H' + (mx + 30.5) + 'M' + mx + ' ' + (my - 30) + 'V' + (my + 30), fill: 'none', stroke: '#00ff00', 'stroke-width': 20.5});
  
  
}

drawSeq({id: 'seq-epi', top: 231, bottom: 1425, xlim: [45, 60.267], ylim: [-.25, .25], xTicks: epiXTicks, yTicks: epiYTicks, kdeX: epiKdeX, kdeY: epiKdeY, box: epiBox, boxY: epiBoxY, samples: epiSamples});
drawSeq({id: 'seq-stroma', top: 1735, bottom: 2930, xlim: [-5.126, -3.5], ylim: [-2.5, 2.5], xTicks: stromaXTicks, yTicks: stromaYTicks, kdeX: stromaKdeX, kdeY: stromaKdeY, box: stromaBox, boxY: stromaBoxY, samples: stromaSamples});
drawSeq({id: 'seq-endo', top: 3242, bottom: 4436, xlim: [-7.5, -5], ylim: [-1.6, 1.6], xTicks: endoXTicks, yTicks: endoYTicks, kdeX: endoKdeX, kdeY: endoKdeY, box: endoBox, boxY: endoBoxY, samples: endoSamples});
drawPolar({id: 'pol-epi', rings: epiRings, points: epiPoints, hull: epiHull, medoid: epiMedoid});
drawPolar({id: 'pol-stroma', rings: stromaRings, points: stromaPoints, hull: stromaHull, medoid: stromaMedoid});
drawPolar({id: 'pol-endo', rings: endoRings, points: endoPoints, hull: endoHull, medoid: endoMedoid});
</script>
</body>
</html>
